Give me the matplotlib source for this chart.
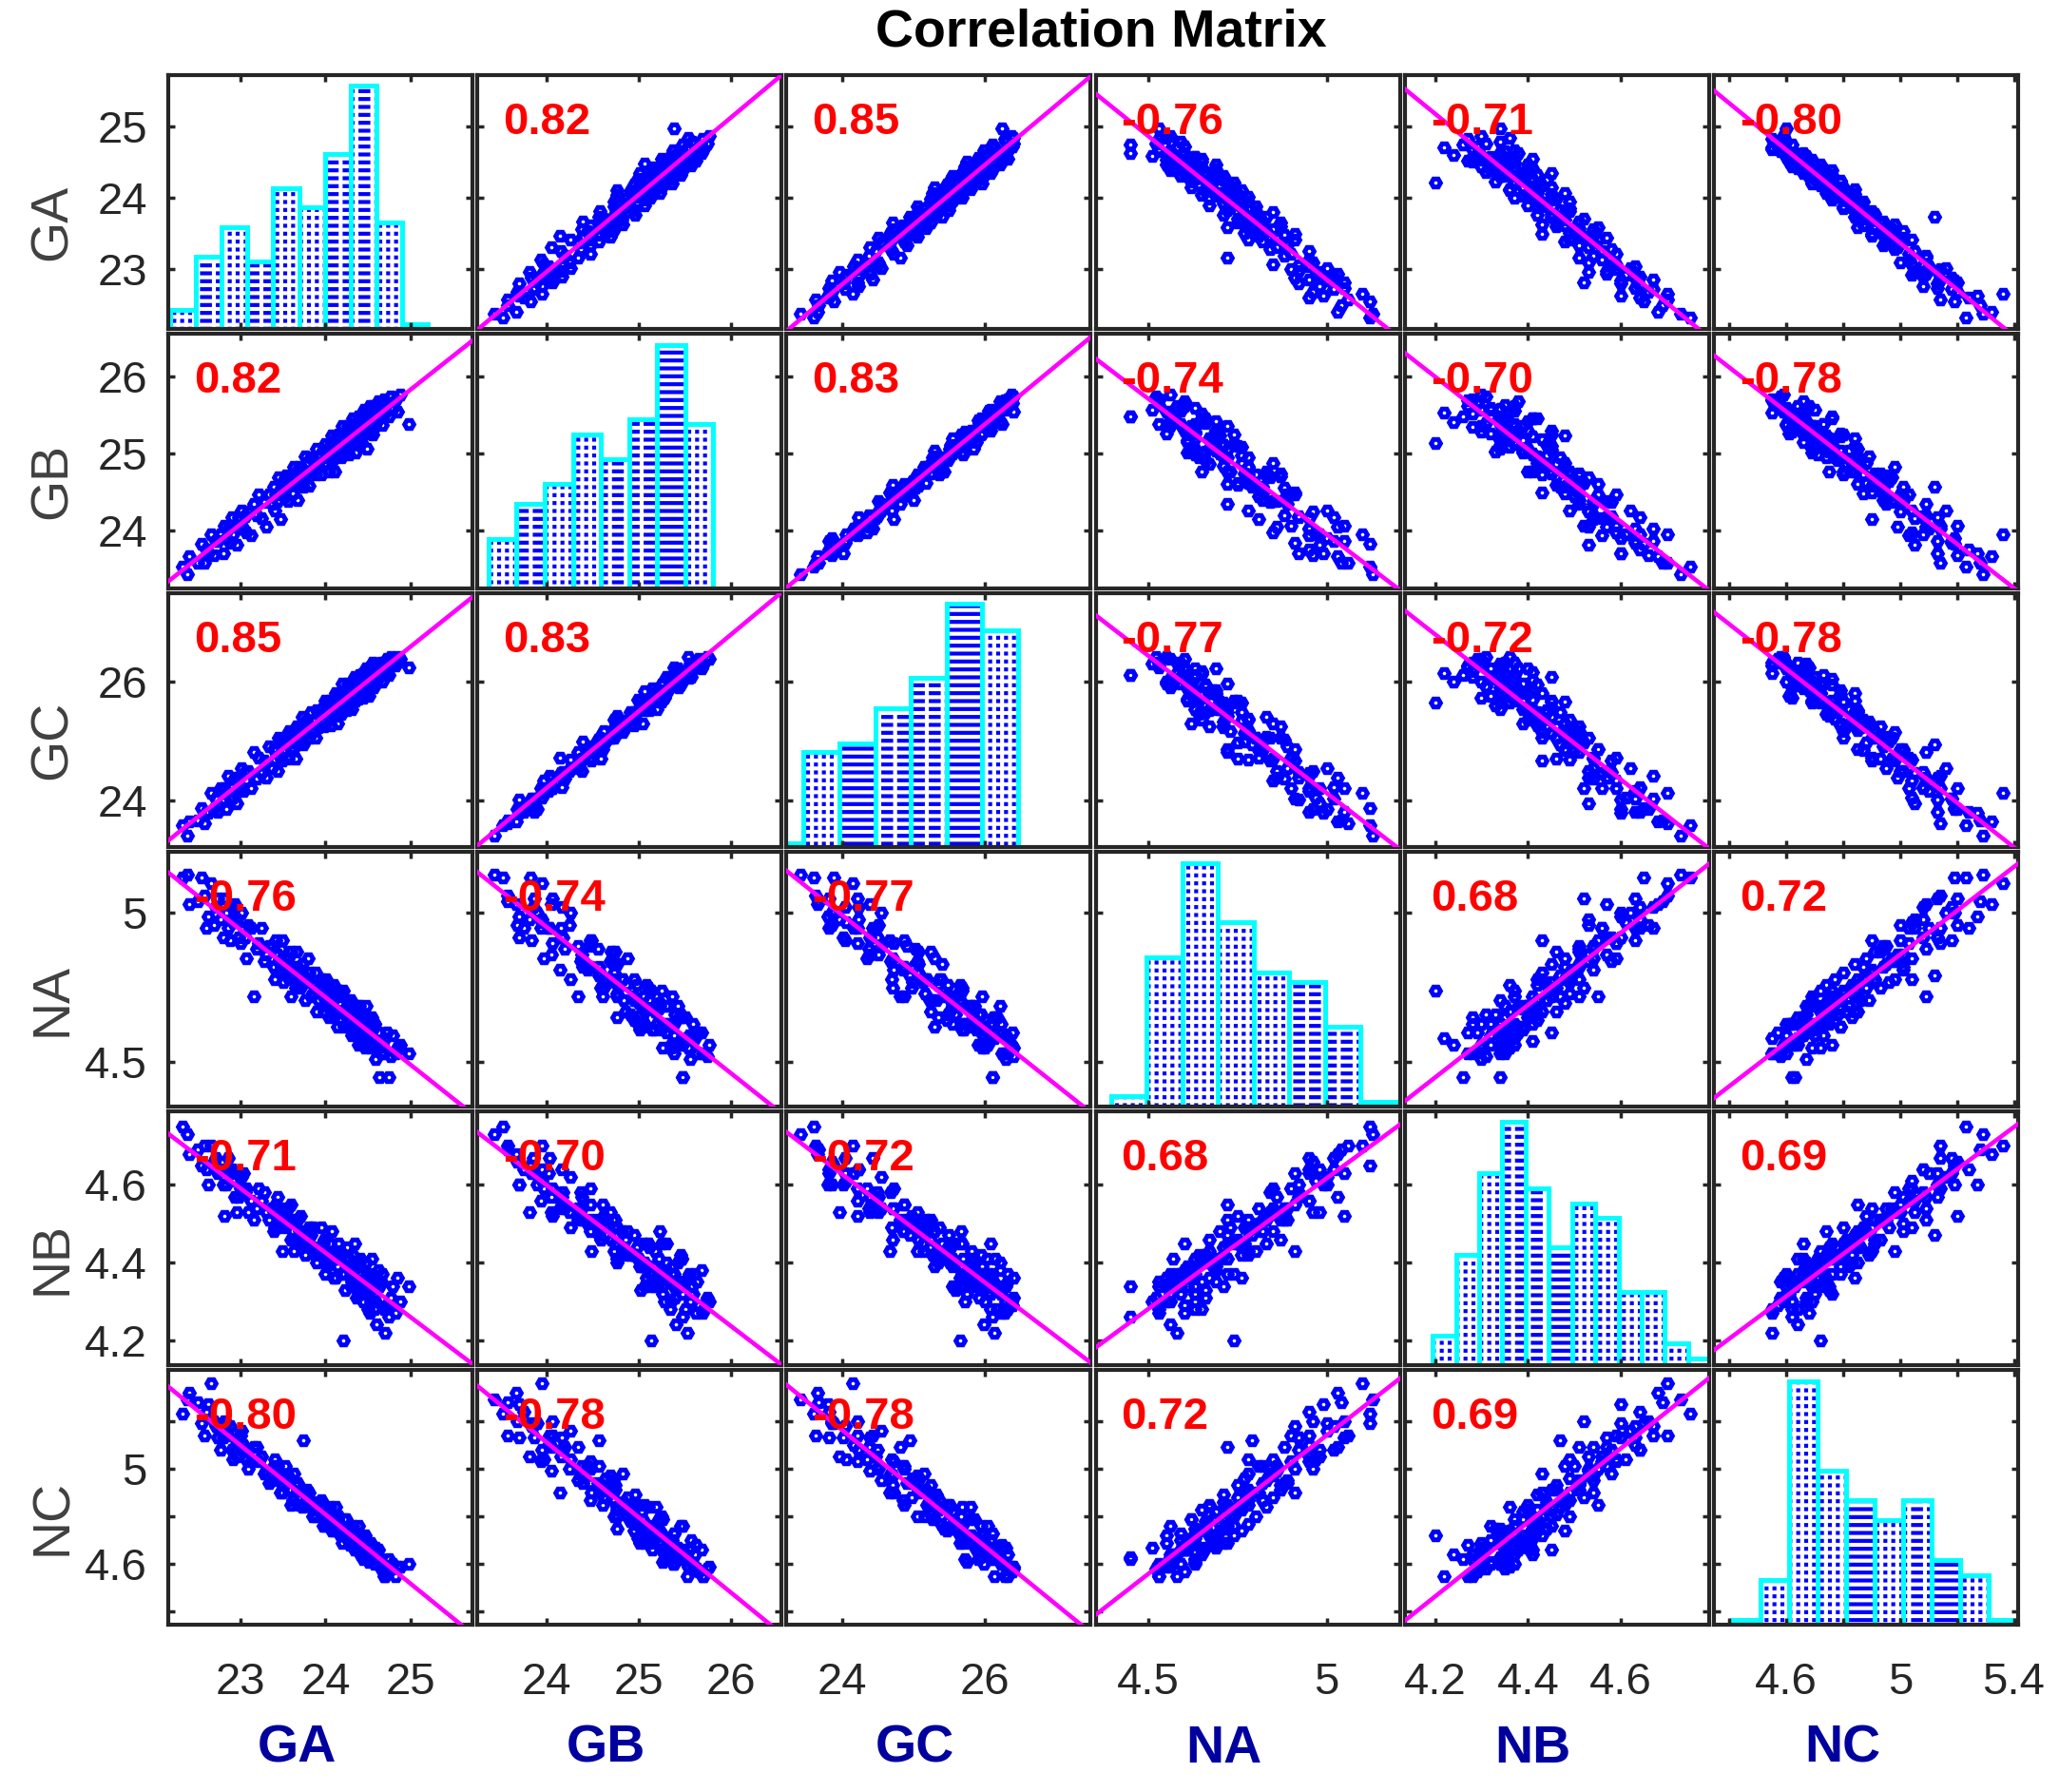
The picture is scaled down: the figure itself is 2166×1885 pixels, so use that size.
import numpy as np
import matplotlib
matplotlib.use('Agg')
import matplotlib.pyplot as plt
from matplotlib.ticker import FixedLocator, FixedFormatter, NullFormatter

plt.rcParams['font.family'] = ['Liberation Sans', 'DejaVu Sans']
plt.rcParams['hatch.linewidth'] = 3.0

# ---------------- data ----------------
names = ['GA', 'GB', 'GC', 'NA', 'NB', 'NC']

GA = [22.33, 22.38, 22.41, 22.50, 22.55, 22.58, 22.61, 22.63, 22.66, 22.69,
      22.72, 22.74, 22.77, 22.80, 22.82, 22.84, 22.86, 22.88, 22.90, 22.92,
      22.94, 22.96, 22.98, 23.00, 23.02, 23.04, 23.06, 23.07, 23.10, 23.13,
      23.16, 23.19, 23.22, 23.25, 23.28, 23.31, 23.34, 23.37, 23.39, 23.41,
      23.42, 23.44, 23.45, 23.47, 23.48, 23.50, 23.51, 23.53, 23.54, 23.56,
      23.57, 23.59, 23.60, 23.62, 23.63, 23.65, 23.66, 23.67, 23.69, 23.71,
      23.73, 23.74, 23.76, 23.78, 23.80, 23.81, 23.83, 23.85, 23.87, 23.88,
      23.90, 23.92, 23.94, 23.95, 23.97, 23.99, 24.00, 24.01, 24.02, 24.04,
      24.05, 24.06, 24.07, 24.09, 24.10, 24.11, 24.12, 24.14, 24.15, 24.16,
      24.17, 24.19, 24.20, 24.21, 24.22, 24.23, 24.24, 24.25, 24.26, 24.27,
      24.29, 24.30, 24.31, 24.31, 24.32, 24.33, 24.34, 24.35, 24.36, 24.37,
      24.38, 24.39, 24.40, 24.40, 24.41, 24.42, 24.43, 24.44, 24.45, 24.46,
      24.47, 24.48, 24.49, 24.49, 24.50, 24.51, 24.52, 24.53, 24.54, 24.55,
      24.55, 24.56, 24.57, 24.57, 24.59, 24.60, 24.62, 24.63, 24.65, 24.66,
      24.68, 24.70, 24.72, 24.74, 24.76, 24.79, 24.82, 24.84, 24.87, 24.97]

GB = [23.53, 23.43, 23.67, 23.58, 23.83, 23.58, 23.75, 23.70, 23.95, 23.68,
      23.86, 23.87, 23.95, 23.70, 24.06, 23.90, 24.03, 23.84, 24.17, 23.95,
      24.05, 23.82, 24.17, 24.06, 24.26, 24.02, 24.18, 23.97, 24.25, 23.94,
      24.34, 24.20, 24.47, 24.16, 24.37, 24.05, 24.47, 24.34, 24.57, 24.26,
      24.47, 24.38, 24.69, 24.15, 24.56, 24.49, 24.64, 24.44, 24.72, 24.38,
      24.62, 24.61, 24.70, 24.48, 24.83, 24.59, 24.74, 24.39, 24.82, 24.62,
      24.76, 24.57, 24.96, 24.74, 24.88, 24.58, 24.95, 24.76, 24.87, 24.73,
      25.06, 24.84, 24.98, 24.73, 25.05, 24.86, 25.12, 24.95, 25.03, 24.76,
      25.10, 24.95, 25.23, 24.91, 25.08, 24.76, 25.19, 25.04, 25.25, 25.00,
      25.18, 24.95, 25.36, 25.13, 25.26, 25.02, 25.22, 25.11, 25.36, 24.99,
      25.30, 25.11, 25.38, 25.20, 25.45, 25.17, 25.30, 25.01, 25.39, 25.23,
      25.48, 25.17, 25.38, 25.30, 25.46, 25.15, 25.44, 25.28, 25.57, 25.26,
      25.42, 25.06, 25.55, 25.35, 25.51, 25.26, 25.62, 25.35, 25.46, 25.25,
      25.61, 25.43, 25.59, 25.34, 25.56, 25.40, 25.68, 25.48, 25.63, 25.37,
      25.70, 25.53, 25.65, 25.48, 25.74, 25.58, 25.69, 25.54, 25.76, 25.38]

GC = [23.60, 23.42, 23.65, 23.67, 23.88, 23.63, 23.82, 23.80, 24.14, 23.86,
      24.04, 23.81, 24.22, 24.02, 24.21, 23.86, 24.42, 24.04, 24.23, 24.05,
      24.39, 23.96, 24.38, 24.21, 24.55, 24.16, 24.49, 24.34, 24.50, 24.21,
      24.81, 24.37, 24.72, 24.47, 24.68, 24.38, 24.91, 24.55, 24.86, 24.69,
      24.87, 24.50, 25.05, 24.72, 25.03, 24.67, 24.99, 24.85, 25.07, 24.71,
      25.17, 24.87, 25.06, 24.85, 25.15, 24.70, 25.24, 25.00, 25.19, 24.97,
      25.40, 24.94, 25.32, 25.13, 25.29, 25.06, 25.49, 25.16, 25.34, 25.05,
      25.51, 25.23, 25.48, 25.36, 25.56, 25.24, 25.68, 25.38, 25.54, 25.35,
      25.68, 25.27, 25.66, 25.48, 25.65, 25.42, 25.80, 25.29, 25.66, 25.54,
      25.81, 25.46, 25.96, 25.65, 25.78, 25.59, 25.85, 25.52, 25.96, 25.69,
      25.85, 25.65, 25.97, 25.54, 25.94, 25.80, 26.08, 25.68, 25.92, 25.79,
      26.04, 25.70, 26.10, 25.81, 26.02, 25.88, 26.12, 25.72, 26.08, 25.96,
      26.21, 25.84, 26.05, 25.93, 26.17, 25.75, 26.24, 26.00, 26.15, 25.95,
      26.31, 25.90, 26.22, 26.08, 26.29, 25.99, 26.21, 26.11, 26.31, 25.99,
      26.32, 26.13, 26.38, 26.11, 26.40, 26.29, 26.27, 26.40, 26.37, 26.23]

NA = [5.12, 5.13, 5.03, 5.04, 5.12, 5.06, 4.95, 4.99, 5.10, 4.96,
      5.02, 5.05, 4.98, 4.92, 5.05, 5.00, 4.95, 4.91, 5.02, 4.97,
      5.03, 4.98, 4.92, 4.90, 5.00, 4.95, 4.92, 4.85, 4.96, 4.95,
      4.72, 4.88, 4.90, 4.95, 4.84, 4.86, 4.89, 4.89, 4.82, 4.78,
      4.91, 4.86, 4.84, 4.81, 4.88, 4.91, 4.77, 4.81, 4.83, 4.85,
      4.78, 4.72, 4.87, 4.82, 4.78, 4.75, 4.87, 4.82, 4.78, 4.75,
      4.83, 4.79, 4.71, 4.77, 4.85, 4.80, 4.72, 4.73, 4.76, 4.80,
      4.67, 4.71, 4.76, 4.78, 4.72, 4.67, 4.74, 4.78, 4.69, 4.65,
      4.75, 4.71, 4.70, 4.66, 4.76, 4.72, 4.67, 4.62, 4.74, 4.70,
      4.67, 4.64, 4.72, 4.74, 4.62, 4.66, 4.68, 4.71, 4.62, 4.63,
      4.69, 4.71, 4.59, 4.63, 4.66, 4.68, 4.60, 4.61, 4.66, 4.69,
      4.56, 4.61, 4.63, 4.69, 4.57, 4.61, 4.65, 4.63, 4.59, 4.55,
      4.69, 4.63, 4.59, 4.56, 4.65, 4.63, 4.60, 4.55, 4.65, 4.61,
      4.58, 4.56, 4.63, 4.63, 4.51, 4.56, 4.60, 4.45, 4.53, 4.56,
      4.53, 4.58, 4.60, 4.45, 4.52, 4.59, 4.53, 4.55, 4.56, 4.53]

NB = [4.75, 4.73, 4.68, 4.69, 4.65, 4.70, 4.64, 4.60, 4.70, 4.66,
      4.67, 4.63, 4.64, 4.60, 4.52, 4.60, 4.67, 4.63, 4.64, 4.61,
      4.57, 4.53, 4.57, 4.59, 4.62, 4.63, 4.58, 4.59, 4.53, 4.56,
      4.51, 4.54, 4.59, 4.56, 4.58, 4.53, 4.51, 4.54, 4.48, 4.49,
      4.55, 4.57, 4.53, 4.54, 4.51, 4.43, 4.49, 4.50, 4.51, 4.54,
      4.51, 4.55, 4.46, 4.48, 4.43, 4.46, 4.51, 4.51, 4.48, 4.52,
      4.45, 4.47, 4.42, 4.45, 4.48, 4.49, 4.47, 4.49, 4.42, 4.43,
      4.40, 4.44, 4.44, 4.49, 4.45, 4.46, 4.37, 4.42, 4.39, 4.40,
      4.45, 4.42, 4.48, 4.42, 4.36, 4.41, 4.36, 4.39, 4.45, 4.41,
      4.43, 4.42, 4.37, 4.20, 4.37, 4.33, 4.41, 4.44, 4.39, 4.41,
      4.38, 4.34, 4.35, 4.34, 4.42, 4.39, 4.45, 4.39, 4.31, 4.35,
      4.32, 4.34, 4.37, 4.40, 4.41, 4.37, 4.35, 4.30, 4.32, 4.34,
      4.40, 4.34, 4.37, 4.35, 4.28, 4.32, 4.27, 4.30, 4.41, 4.36,
      4.37, 4.34, 4.32, 4.28, 4.30, 4.24, 4.38, 4.34, 4.35, 4.37,
      4.28, 4.22, 4.29, 4.26, 4.31, 4.34, 4.27, 4.36, 4.30, 4.34]

NC = [5.23, 5.29, 5.32, 5.28, 5.19, 5.14, 5.24, 5.27, 5.36, 5.20,
      5.18, 5.13, 5.08, 5.13, 5.20, 5.19, 5.14, 5.18, 5.08, 5.04,
      5.09, 5.05, 5.13, 5.14, 5.16, 5.10, 5.08, 5.04, 5.00, 5.03,
      5.09, 5.09, 5.03, 5.05, 4.98, 4.99, 4.94, 4.95, 5.01, 5.04,
      5.00, 5.01, 4.97, 4.90, 4.94, 4.90, 4.96, 5.01, 4.95, 4.97,
      4.91, 4.85, 4.91, 4.87, 4.98, 4.93, 4.93, 4.94, 4.85, 4.88,
      4.84, 5.12, 4.89, 4.91, 4.88, 4.90, 4.84, 4.80, 4.83, 4.80,
      4.85, 4.86, 4.85, 4.87, 4.76, 4.81, 4.76, 4.77, 4.82, 4.83,
      4.84, 4.79, 4.74, 4.78, 4.74, 4.75, 4.84, 4.79, 4.80, 4.77,
      4.72, 4.74, 4.69, 4.72, 4.79, 4.75, 4.79, 4.75, 4.70, 4.71,
      4.68, 4.69, 4.73, 4.75, 4.76, 4.72, 4.66, 4.69, 4.67, 4.69,
      4.76, 4.70, 4.73, 4.71, 4.64, 4.66, 4.66, 4.62, 4.70, 4.72,
      4.67, 4.69, 4.66, 4.63, 4.64, 4.61, 4.68, 4.69, 4.66, 4.66,
      4.64, 4.62, 4.60, 4.62, 4.67, 4.64, 4.66, 4.63, 4.58, 4.60,
      4.55, 4.55, 4.57, 4.62, 4.58, 4.60, 4.55, 4.59, 4.59, 4.60]

# correlation values printed in the panels
corr = [[None, 0.82, 0.85, -0.76, -0.71, -0.80],
        [0.82, None, 0.83, -0.74, -0.70, -0.78],
        [0.85, 0.83, None, -0.77, -0.72, -0.78],
        [-0.76, -0.74, -0.77, None, 0.68, 0.72],
        [-0.71, -0.70, -0.72, 0.68, None, 0.69],
        [-0.80, -0.78, -0.78, 0.72, 0.69, None]]

# histogram bins (first edge, bin width) and counts on the diagonal
hist_start = [22.18, 23.37, 22.96, 4.395, 4.195, 4.41]
hist_width = [0.302, 0.305, 0.50, 0.10, 0.05, 0.10]
hist_counts = [[4, 15, 21, 14, 29, 25, 36, 50, 22, 1],
               [10, 17, 21, 31, 26, 34, 49, 33],
               [1, 22, 24, 32, 39, 56, 50],
               [2, 30, 49, 37, 27, 25, 16, 1],
               [4, 15, 26, 33, 24, 16, 22, 20, 10, 10, 3, 1],
               [1, 9, 49, 31, 25, 21, 25, 13, 10, 1]]

# axis limits and ticks per variable
limits = [(22.16, 25.72), (23.25, 26.55), (23.22, 27.48),
          (4.352, 5.205), (4.135, 4.790), (4.345, 5.415)]
major_x = [[23, 24, 25], [24, 25, 26], [24, 26], [4.5, 5], [4.2, 4.4, 4.6], [4.6, 5, 5.4]]
major_y = [[23, 24, 25], [24, 25, 26], [24, 26], [4.5, 5], [4.2, 4.4, 4.6], [4.6, 5]]
minor_x = [[], [], [], [], [], [4.4, 4.8, 5.2]]
minor_y = [[], [], [], [], [], [4.4, 4.8, 5.2]]

# bar fill textures (style only)
patterns = [['P', 'D', 'P', 'D', 'P', 'P', 'D', 'D', 'P', 'S'],
            ['P', 'D', 'P', 'P', 'D', 'D', 'S', 'P'],
            ['P', 'P', 'S', 'D', 'D', 'S', 'P'],
            ['P', 'P', 'P', 'P', 'P', 'D', 'D', 'S'],
            ['P', 'P', 'P', 'D', 'D', 'S', 'P', 'P', 'P', 'P', 'P', 'S'],
            ['S', 'P', 'P', 'P', 'S', 'P', 'D', 'S', 'P', 'S']]

data = [GA, GB, GC, NA, NB, NC]

# ---------------- style ----------------
W, H = 2166, 1885
BLUE = '#0000FF'
CYAN = '#00FFFF'
MAGENTA = '#FF00FF'
AXC = '#262626'

fig = plt.figure(figsize=(W / 100, H / 100), dpi=100)

left0 = 177 / W
colstep = 325.2 / W
aw = 320 / W
top0 = 78.6
rowstep = 272.5
ah_px = 267.8

def fmt(v):
    return ('%g' % v)

n = len(names)
for i in range(n):
    for j in range(n):
        bottom = (H - (top0 + i * rowstep + ah_px)) / H
        ax = fig.add_axes([left0 + j * colstep, bottom, aw, ah_px / H])
        xlo, xhi = limits[j]
        ylo, yhi = limits[i]
        if i == j:
            tw = ax.twinx()
            tw.set_zorder(0)
            ax.set_zorder(1)
            ax.patch.set_visible(False)
            for s in tw.spines.values():
                s.set_visible(False)
            tw.tick_params(right=False, labelright=False, left=False, labelleft=False)
            counts = hist_counts[i]
            for k, (c, p) in enumerate(zip(counts, patterns[i])):
                x0 = hist_start[i] + k * hist_width[i]
                tw.bar(x0, c, hist_width[i], align='edge', facecolor='white',
                       edgecolor=BLUE, hatch='--', linewidth=0, zorder=1)
                if p == 'D':
                    tw.bar(x0, c, hist_width[i], align='edge', facecolor='none',
                           edgecolor='white', hatch='|', linewidth=0, zorder=1.1)
                elif p == 'P':
                    tw.bar(x0, c, hist_width[i], align='edge', facecolor='none',
                           edgecolor='white', hatch='||', linewidth=0, zorder=1.1)
                tw.bar(x0, c, hist_width[i], align='edge', facecolor='none',
                       edgecolor=CYAN, linewidth=3.6, zorder=2)
            tw.set_ylim(0, max(counts) * 1.045)
            tw.set_xlim(xlo, xhi)
        else:
            x = np.array(data[j])
            y = np.array(data[i])
            ax.plot(x, y, 'H', mfc='none', mec=BLUE, ms=7.0, mew=3.6, zorder=2)
            slope, icpt = np.polyfit(x, y, 1)
            xs = np.array([xlo, xhi])
            ax.plot(xs, slope * xs + icpt, color=MAGENTA, lw=3.3, zorder=3)
            ax.text(0.084, 0.813, '%.2f' % corr[i][j], transform=ax.transAxes,
                    color='red', fontsize=34, fontweight='bold',
                    ha='left', va='center', zorder=5)
        ax.set_xlim(xlo, xhi)
        ax.set_ylim(ylo, yhi)
        ax.xaxis.set_major_locator(FixedLocator(major_x[j]))
        ax.xaxis.set_major_formatter(FixedFormatter([fmt(v) for v in major_x[j]]))
        ax.xaxis.set_minor_locator(FixedLocator(minor_x[j]))
        ax.xaxis.set_minor_formatter(NullFormatter())
        ax.yaxis.set_major_locator(FixedLocator(major_y[i]))
        ax.yaxis.set_major_formatter(FixedFormatter([fmt(v) for v in major_y[i]]))
        ax.yaxis.set_minor_locator(FixedLocator(minor_y[i]))
        ax.yaxis.set_minor_formatter(NullFormatter())
        ax.tick_params(which='both', direction='in', top=True, right=True,
                       bottom=True, left=True, length=5, width=2.5,
                       color=AXC, labelsize=34, labelcolor=AXC)
        ax.tick_params(axis='x', which='both', pad=28,
                       labelbottom=(i == n - 1), labeltop=False)
        ax.tick_params(axis='y', which='both', pad=16,
                       labelleft=(j == 0), labelright=False)
        for s in ax.spines.values():
            s.set_linewidth(3.0)
            s.set_color(AXC)

# variable labels
for i, nm in enumerate(names):
    yc = (H - (top0 + i * rowstep + ah_px / 2 + 21)) / H
    fig.text(56 / W, yc, nm, rotation=90, fontsize=40, color='#404040',
             ha='center', va='center')
for j, nm in enumerate(names):
    xc = left0 + j * colstep + aw / 2 - 25 / W
    fig.text(xc, 0.0239, nm, fontsize=40, fontweight='bold', color='#00009E',
             ha='center', va='center')

fig.text(0.535, 0.9816, 'Correlation Matrix', fontsize=40, fontweight='bold',
         color='black', ha='center', va='center')

fig.savefig('out.png', dpi=100)
